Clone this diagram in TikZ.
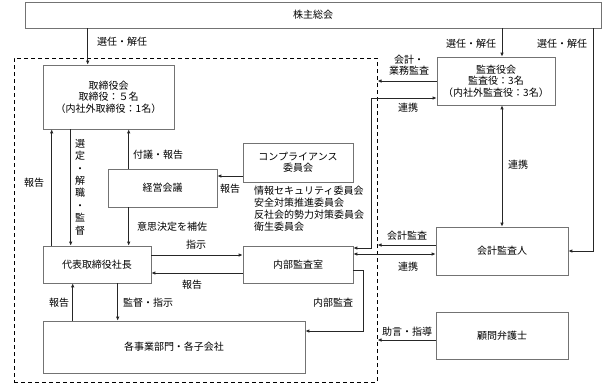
\documentclass[tikz,border=0pt]{standalone}
\usepackage{fontspec}
\newfontfamily\jp{Noto Sans CJK JP}
\usetikzlibrary{arrows.meta}

\def\tip{Latex[length=4pt,width=3.5pt]}
\tikzstyle{box} = [rectangle,
draw=black!55,
line width=0.6pt,
align=center,
inner sep=0pt]
\tikzstyle{grp} = [rectangle,
draw=black,
line width=1pt,
dash pattern=on 4pt off 3pt]
\tikzstyle{lbl} = [align=center, inner sep=0pt]
\tikzstyle{arr} = [draw=black!85, line width=1pt, -{\tip}]
\tikzstyle{dblarr} = [draw=black!85, line width=1pt, {\tip}-{\tip}]

\begin{document}
\begin{tikzpicture}[x=1pt, y=-1pt, every node/.style={font=\jp\fontsize{10}{11.5}\selectfont}]
    \useasboundingbox (0,0) rectangle (606,384);
    %%%%%%%%%%%%%%%%%%%%%%%%%%%%%%%%%%%%%%%%
    % Boxes
    %%%%%%%%%%%%%%%%%%%%%%%%%%%%%%%%%%%%%%%%
    \node (soukai) [box, minimum width=576pt, minimum height=26pt] at (313,15) {株主総会};
    \node (group) [grp, minimum width=363pt, minimum height=324pt] at (195.5,220) {};
    \node (torikai) [box, minimum width=131pt, minimum height=64pt] at (108.5,97) {取締役会\\取締役：５名\\（内社外取締役：1名）};
    \node (kansa) [box, minimum width=118pt, minimum height=48pt] at (496,81) {監査役会\\監査役：3名\\（内社外監査役：3名）};
    \node (comp) [box, minimum width=110pt, minimum height=39pt] at (298,162.5) {コンプライアンス\\委員会};
    \node (keiei) [box, minimum width=109pt, minimum height=38pt] at (162.5,188) {経営会議};
    \node (daihyo) [box, minimum width=108pt, minimum height=37pt] at (97,264.5) {代表取締役社長};
    \node (naibu) [box, minimum width=110pt, minimum height=37pt] at (298,264.5) {内部監査室};
    \node (kaku) [box, minimum width=262pt, minimum height=52pt] at (174,347) {各事業部門・各子会社};
    \node (kaikei) [box, minimum width=132pt, minimum height=48pt] at (502,251) {会計監査人};
    \node (komon) [box, minimum width=132pt, minimum height=47pt] at (502,335.5) {顧問弁護士};
    \node (iinkai) [lbl, align=left, anchor=west, font=\jp\fontsize{10}{12}\selectfont] at (254,209) {情報セキュリティ委員会\\安全対策推進委員会\\反社会的勢力対策委員会\\衛生委員会};
    %%%%%%%%%%%%%%%%%%%%%%%%%%%%%%%%%%%%%%%%
    % Shareholders
    %%%%%%%%%%%%%%%%%%%%%%%%%%%%%%%%%%%%%%%%
    \coordinate (s1) at ([xshift=45pt]torikai.north west);
    \coordinate (s3) at ([xshift=25pt]kaikei.east);
    \draw[arr] (s1 |- soukai.south) -- (s1);
    \draw[arr] (soukai.south -| kaikei.north) -- (kansa.north -| kaikei.north);
    \draw[arr] (s3 |- soukai.south) |- (kaikei.east);
    \node (lb1) [lbl] at (122,42) {選任・解任};
    \node (lb2) [lbl] at (471,44) {選任・解任};
    \node (lb3) [lbl] at (562,44) {選任・解任};
    %%%%%%%%%%%%%%%%%%%%%%%%%%%%%%%%%%%%%%%%
    % Inside the company
    %%%%%%%%%%%%%%%%%%%%%%%%%%%%%%%%%%%%%%%%
    \coordinate (h1) at ([xshift=9pt]daihyo.north west);
    \coordinate (h2) at ([xshift=28pt]daihyo.north west);
    \coordinate (h3) at ([xshift=21pt]keiei.north west);
    \coordinate (h4) at ([xshift=21pt]keiei.south west);
    \coordinate (h5) at ([yshift=-13.5pt]comp.west);
    \coordinate (h6) at ([yshift=9.5pt]daihyo.east);
    \coordinate (h7) at ([yshift=-8.5pt]naibu.west);
    \coordinate (h8) at ([xshift=30pt]kaku.north west);
    \coordinate (h9) at ([xshift=75pt]kaku.north west);
    \draw[arr] (h1) -- (h1 |- torikai.south);
    \draw[arr] (h2 |- torikai.south) -- (h2);
    \draw[arr] (h3) -- (h3 |- torikai.south);
    \draw[arr] (h4) -- (h4 |- daihyo.north);
    \draw[arr] (h5) -- (h5 -| keiei.east);
    \draw[arr] (h6) -- (h6 -| naibu.west);
    \draw[arr] (h7) -- (h7 -| daihyo.east);
    \draw[arr] (h8) -- (h8 |- daihyo.south);
    \draw[arr] (h9 |- daihyo.south) -- (h9);
    \draw[arr] ([yshift=-5.5pt]naibu.east) -- ++(10,0) |- ([yshift=16pt]kaku.east);
    \node (lb10) [lbl] at (34,183) {報告};
    \node (lb11) [lbl, font=\jp\fontsize{10}{12.4}\selectfont] at (80,187) {選\\定\\・\\解\\職\\・\\監\\督};
    \node (lb12) [lbl] at (158,155) {付議・報告};
    \node (lb13) [lbl] at (230,189) {報告};
    \node (lb15) [lbl] at (172,227) {意思決定を補佐};
    \node (lb16) [lbl] at (196,245) {指示};
    \node (lb17) [lbl] at (192,285) {報告};
    \node (lb18) [lbl] at (59,303) {報告};
    \node (lb19) [lbl] at (148,303) {監督・指示};
    \node (lb20) [lbl] at (333,303) {内部監査};
    %%%%%%%%%%%%%%%%%%%%%%%%%%%%%%%%%%%%%%%%
    % Auditors
    %%%%%%%%%%%%%%%%%%%%%%%%%%%%%%%%%%%%%%%%
    \coordinate (r1) at ([yshift=6pt]kaikei.west);
    \coordinate (r2) at ([yshift=-3pt]kaikei.west);
    \coordinate (r3) at ([yshift=-4.5pt]komon.west);
    \draw[arr] (kansa.west) -- (kansa.west -| group.east);
    \draw[dblarr] ([yshift=-17pt]kansa.west) -- ++(-65,0) |- ([yshift=16.5pt]naibu.east);
    \draw[dblarr] (kansa.south -| kaikei.north) -- (kaikei.north);
    \draw[arr] (r1) -- (r1 -| group.east);
    \draw[dblarr] (r2 -| naibu.east) -- (r2);
    \draw[arr] (r3) -- (r3 -| group.east);
    \node (lb4) [lbl] at (409,65) {会計・\\業務監査};
    \node (lb5) [lbl] at (408,108) {連携};
    \node (lb6) [lbl] at (518,165) {連携};
    \node (lb7) [lbl] at (407,236) {会計監査};
    \node (lb8) [lbl] at (408,267) {連携};
    \node (lb9) [lbl] at (407,332) {助言・指導};
\end{tikzpicture}
\end{document}
